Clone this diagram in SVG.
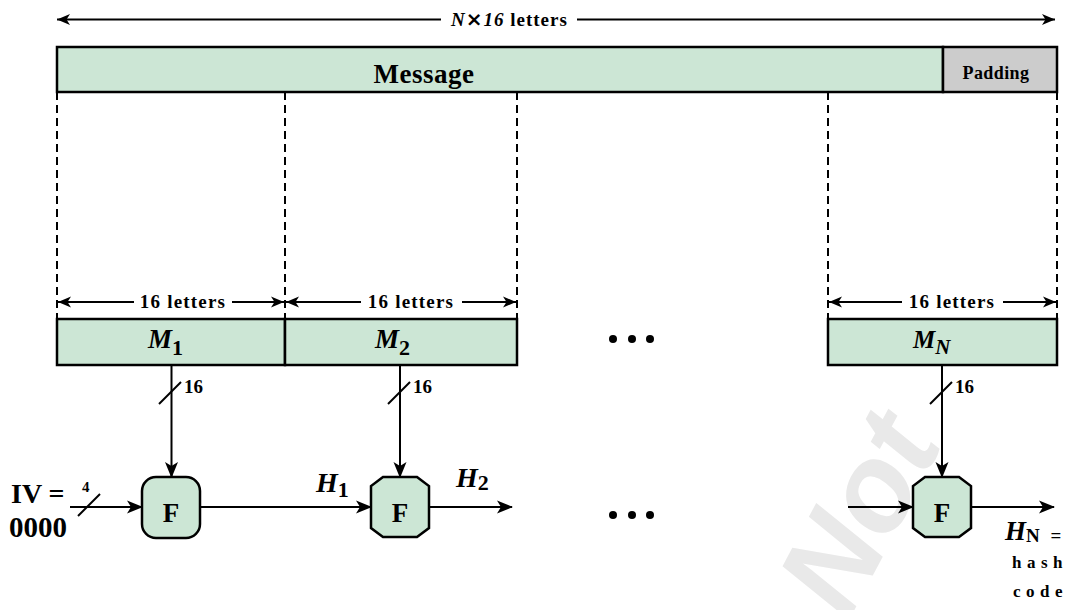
<svg xmlns="http://www.w3.org/2000/svg" width="1076" height="610" viewBox="0 0 1076 610">
<style>
.t{font-family:"Liberation Serif","Times New Roman",serif;font-weight:bold;fill:#000}
.i{font-style:italic}
.box{fill:#cce6d5;stroke:#000;stroke-width:2.5}
.pad{fill:#cccccc;stroke:#000;stroke-width:2.5}
.ln{stroke:#000;stroke-width:2;fill:none}
.dash{stroke:#000;stroke-width:2;stroke-dasharray:8 5;fill:none}
.arr{marker-end:url(#ah)}
.sarr{marker-end:url(#ahs)}
.sarrs{marker-start:url(#ahs)}
</style>
<defs>
<marker id="ah" markerUnits="userSpaceOnUse" markerWidth="17" markerHeight="14" refX="15" refY="7" orient="auto"><path d="M0,0.5 L16,7 L0,13.5 L4,7 z" fill="#000"/></marker>
<marker id="ahs" markerUnits="userSpaceOnUse" markerWidth="14" markerHeight="12" refX="13" refY="6" orient="auto-start-reverse"><path d="M0,0.5 L13,6 L0,11.5 L3.5,6 z" fill="#000"/></marker>
</defs>
<rect width="1076" height="610" fill="#fff"/>

<text x="0" y="0" transform="translate(848,622) rotate(-62)" font-family="Liberation Sans,Arial,sans-serif" font-weight="bold" font-style="italic" font-size="122" fill="#e9e9e9">Not</text>

<g id="top-span">
<line class="ln sarrs" x1="57" y1="19.5" x2="441" y2="19.5"/>
<line class="ln sarr" x1="577" y1="19.5" x2="1055" y2="19.5"/>
<text class="t" x="451" y="26" font-size="19" letter-spacing="1"><tspan class="i">N</tspan><tspan font-family="DejaVu Sans,sans-serif" font-size="20">×</tspan><tspan class="i">16</tspan> letters</text>
</g>

<g id="message">
<rect class="box" x="57" y="47" width="886" height="45"/>
<text class="t" x="424" y="83" font-size="27" letter-spacing="0.5" text-anchor="middle">Message</text>
</g>
<g id="padding">
<rect class="pad" x="943" y="47" width="114" height="45"/>
<text class="t" x="996" y="79" font-size="18" letter-spacing="0.4" text-anchor="middle">Padding</text>
</g>

<g id="dashes">
<line class="dash" x1="57" y1="92" x2="57" y2="319"/>
<line class="dash" x1="285" y1="92" x2="285" y2="319"/>
<line class="dash" x1="517" y1="92" x2="517" y2="319"/>
<line class="dash" x1="828" y1="92" x2="828" y2="319"/>
<line class="dash" x1="1057" y1="92" x2="1057" y2="319"/>
</g>

<g id="span-1">
<line class="ln sarrs" x1="58" y1="302" x2="134" y2="302"/>
<line class="ln sarr" x1="232" y1="302" x2="284" y2="302"/>
<text class="t" x="183" y="308" font-size="19" letter-spacing="1.2" text-anchor="middle">16 letters</text>
</g>
<g id="span-2">
<line class="ln sarrs" x1="286" y1="302" x2="361" y2="302"/>
<line class="ln sarr" x1="462" y1="302" x2="516" y2="302"/>
<text class="t" x="411" y="308" font-size="19" letter-spacing="1.2" text-anchor="middle">16 letters</text>
</g>
<g id="span-n">
<line class="ln sarrs" x1="829" y1="302" x2="902" y2="302"/>
<line class="ln sarr" x1="1003" y1="302" x2="1056" y2="302"/>
<text class="t" x="952" y="308" font-size="19" letter-spacing="1.2" text-anchor="middle">16 letters</text>
</g>

<g id="M1">
<rect class="box" x="57" y="319" width="228" height="46"/>
<text class="t" x="148" y="348" font-size="27"><tspan class="i">M</tspan><tspan font-size="22" dy="7">1</tspan></text>
</g>
<g id="M2">
<rect class="box" x="285" y="319" width="232" height="46"/>
<text class="t" x="375" y="348" font-size="27"><tspan class="i">M</tspan><tspan font-size="22" dy="7">2</tspan></text>
</g>
<g id="MN">
<rect class="box" x="828" y="319" width="229" height="46"/>
<text class="t" x="913" y="348" font-size="25"><tspan class="i">M</tspan><tspan class="i" font-size="21" dy="6">N</tspan></text>
</g>

<g id="dots">
<circle cx="613" cy="339" r="4"/><circle cx="632" cy="339" r="4"/><circle cx="650" cy="339" r="4"/>
<circle cx="613" cy="515" r="4"/><circle cx="632" cy="515" r="4"/><circle cx="650" cy="515" r="4"/>
</g>

<g id="connectors">
<line class="ln arr" x1="171.5" y1="365" x2="171.5" y2="477"/>
<line class="ln" x1="159" y1="404" x2="181" y2="382"/>
<text class="t" x="184" y="393" font-size="19">16</text>

<line class="ln arr" x1="400" y1="365" x2="400" y2="477"/>
<line class="ln" x1="388" y1="404" x2="410" y2="382"/>
<text class="t" x="413" y="393" font-size="19">16</text>

<line class="ln arr" x1="942" y1="365" x2="942" y2="477"/>
<line class="ln" x1="930" y1="404" x2="952" y2="382"/>
<text class="t" x="955" y="393" font-size="19">16</text>

<line class="ln arr" x1="70" y1="507" x2="142" y2="507"/>
<line class="ln" x1="78" y1="516" x2="100" y2="494"/>
<text class="t" x="82" y="492" font-size="15">4</text>

<line class="ln arr" x1="200" y1="507" x2="371" y2="507"/>
<text class="t" x="316" y="492" font-size="28"><tspan class="i">H</tspan><tspan font-size="22" dy="5">1</tspan></text>

<line class="ln arr" x1="429" y1="507" x2="512" y2="507"/>
<text class="t" x="456" y="487" font-size="28"><tspan class="i">H</tspan><tspan font-size="22" dy="3">2</tspan></text>

<line class="ln arr" x1="848" y1="507" x2="913" y2="507"/>
<line class="ln arr" x1="971" y1="507" x2="1054" y2="507"/>
</g>

<g id="IV">
<text class="t" x="11" y="503" font-size="28">IV =</text>
<text class="t" x="9" y="537" font-size="29">0000</text>
</g>

<g id="F1">
<rect class="box" x="142" y="477" width="58" height="61" rx="14"/>
<text class="t" x="171" y="522" font-size="27" text-anchor="middle">F</text>
</g>
<g id="F2">
<path class="box" d="M383,477 H417 L429,486 V528 L417,537 H383 L371,528 V486 Z"/>
<text class="t" x="400" y="522" font-size="27" text-anchor="middle">F</text>
</g>
<g id="FN">
<path class="box" d="M925,477 H959 L971,486 V528 L959,537 H925 L913,528 V486 Z"/>
<text class="t" x="942" y="522" font-size="27" text-anchor="middle">F</text>
</g>

<g id="hash-out">
<text class="t" x="1005" y="540" font-size="27"><tspan class="i">H</tspan><tspan font-size="19" dy="2" letter-spacing="3">N =</tspan></text>
<text class="t" x="1012" y="568" font-size="17" letter-spacing="5.5">hash</text>
<text class="t" x="1013" y="597" font-size="17" letter-spacing="5.5">code</text>
</g>
</svg>
